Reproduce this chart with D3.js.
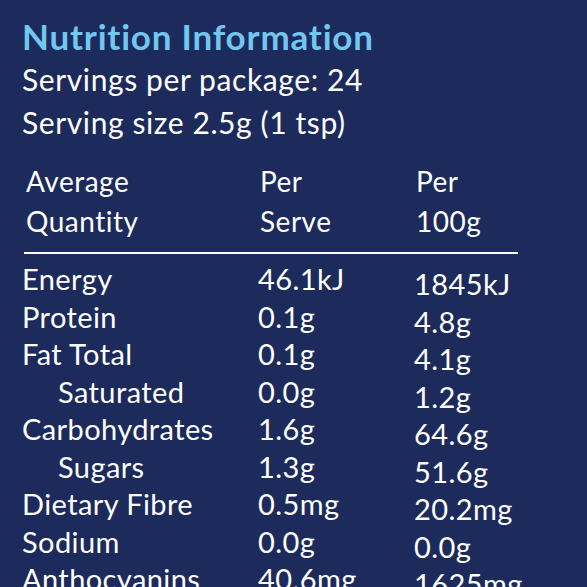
<!DOCTYPE html>
<html><head><meta charset="utf-8">
<script src="https://cdn.jsdelivr.net/npm/d3@7"></script>
<style>body{margin:0;background:#1c2a5c}</style>
</head><body>
<script>
// Nutrition panel data
const nutrients = ["Energy", "Protein", "Fat Total", "Saturated", "Carbohydrates", "Sugars", "Dietary Fibre", "Sodium", "Anthocyanins"];
const indented = ["Saturated", "Sugars"];
const perServe = ["46.1kJ", "0.1g", "0.1g", "0.0g", "1.6g", "1.3g", "0.5mg", "0.0g", "40.6mg"];
const per100g = ["1845kJ", "4.8g", "4.1g", "1.2g", "64.6g", "51.6g", "20.2mg", "0.0g", "1625mg"];
const headers = [["Average", "Quantity"], ["Per", "Serve"], ["Per", "100g"]];
const columns = ["name", "serve", "g100"];

const svg = d3.select("body").append("svg").attr("width", 587).attr("height", 587)
    .style("font-family", "Lato, 'Open Sans', sans-serif");
svg.append("rect").attr("width", 587).attr("height", 587).attr("fill", "#1c2a5c");

svg.append("text").attr("x", 22).attr("y", 50).text("Nutrition Information")
    .attr("fill", "#72c7ef").attr("font-size", 35).attr("font-weight", "bold")
    .attr("letter-spacing", 0.8);
svg.append("text").attr("x", 22).attr("y", 91).text("Servings per package: 24")
    .attr("fill", "white").attr("font-size", 30).attr("letter-spacing", 0.6);
svg.append("text").attr("x", 22).attr("y", 134).text("Serving size 2.5g (1 tsp)")
    .attr("fill", "white").attr("font-size", 30).attr("letter-spacing", 0.6);

const x = d3.scaleOrdinal().domain(columns).range([24, 258, 414]);
const y = d3.scalePoint().domain(nutrients).range([290, 590]);

headers.forEach((h, i) => {
    h.forEach((t, j) => {
        svg.append("text").attr("x", x(columns[i]) + 2).attr("y", 192 + j * 40)
            .text(t).attr("fill", "white").attr("font-size", 28).attr("letter-spacing", 0.5);
    });
});
svg.append("line").attr("x1", 24).attr("x2", 518).attr("y1", 253).attr("y2", 253)
    .attr("stroke", "white").attr("stroke-width", 2);

const rows = svg.selectAll("g.row").data(nutrients).join("g").attr("class", "row")
    .attr("fill", "white").attr("font-size", 29).attr("letter-spacing", 0.4);
rows.append("text").attr("x", d => x("name") - 2 + (indented.includes(d) ? 36 : 0))
    .attr("y", d => y(d)).text(d => d);
rows.append("text").attr("x", x("serve")).attr("y", d => y(d)).text((d, i) => perServe[i]);
rows.append("text").attr("x", x("g100")).attr("y", d => y(d) + 5).text((d, i) => per100g[i]);
</script>
</body></html>
